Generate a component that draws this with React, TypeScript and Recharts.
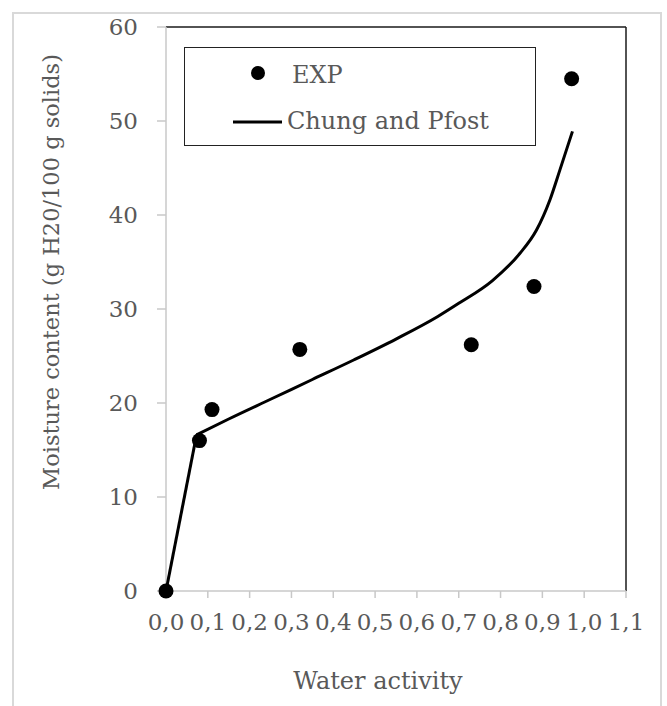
import { ScatterChart, Scatter, XAxis, YAxis, ReferenceLine } from 'recharts';

// measured points (water activity, moisture content)
const expAw = [0, 0.08, 0.11, 0.32, 0.73, 0.88, 0.97];
const expMc = [0, 16.0, 19.3, 25.7, 26.2, 32.4, 54.5];

// Chung and Pfost fit: steep start, then the smooth branch
const fitStartAw = [0, 0.073];
const fitStartMc = [0, 16.6];
const fitAw = [0.073, 0.15, 0.25, 0.35, 0.45, 0.55, 0.65, 0.7, 0.78, 0.846, 0.886, 0.918, 0.942, 0.972];
const fitMc = [16.6, 18.3, 20.4, 22.5, 24.6, 26.8, 29.2, 30.6, 33.0, 35.9, 38.4, 41.6, 44.8, 48.9];

const xTicks = [0, 0.1, 0.2, 0.3, 0.4, 0.5, 0.6, 0.7, 0.8, 0.9, 1.0, 1.1];
const yTicks = [0, 10, 20, 30, 40, 50, 60];

const expData = expAw.map((aw, i) => ({ aw, mc: expMc[i] }));
const fitStart = fitStartAw.map((aw, i) => ({ aw, mc: fitStartMc[i] }));
const fitData = fitAw.map((aw, i) => ({ aw, mc: fitMc[i] }));

const FONT = '"DejaVu Serif", "Liberation Serif", serif';
const TEXT = '#595959';
const AXIS = '#c8c8c8';

const Dot = (p: any) => <circle cx={p.cx} cy={p.cy} r={7.5} fill="#000" />;
const NoDot = () => <g />;

export default function App() {
  return (
    <div style={{ position: 'absolute', left: 0, top: 0, width: 667, height: 706, overflow: 'hidden', background: '#fff' }}>
      <div
        style={{
          position: 'absolute', left: 12, top: 12, width: 650, height: 720,
          border: '2px solid #d9d9d9', boxSizing: 'border-box',
        }}
      />
      <div style={{ position: 'absolute', left: 0, top: 0 }}>
        <ScatterChart width={667} height={706} margin={{ top: 27, right: 41, left: 0, bottom: 0 }}>
          <XAxis
            type="number"
            dataKey="aw"
            domain={[0, 1.1]}
            ticks={xTicks}
            interval={0}
            height={115}
            tickFormatter={(v: number) => v.toFixed(1).replace('.', ',')}
            axisLine={{ stroke: AXIS, strokeWidth: 1.5 }}
            tickLine={{ stroke: AXIS, strokeWidth: 1.5 }}
            tickSize={7}
            tickMargin={16}
            tick={{ fill: TEXT, fontSize: 23, fontFamily: FONT }}
            label={{ value: 'Water activity', position: 'center', dx: -18, dy: 32, fill: TEXT, fontSize: 24, fontFamily: FONT }}
          />
          <YAxis
            type="number"
            dataKey="mc"
            domain={[0, 60]}
            ticks={yTicks}
            interval={0}
            width={166}
            axisLine={{ stroke: AXIS, strokeWidth: 1.5 }}
            tickLine={{ stroke: AXIS, strokeWidth: 1.5 }}
            tickSize={9}
            tickMargin={19}
            tick={{ fill: TEXT, fontSize: 23, fontFamily: FONT }}
            label={{
              value: 'Moisture content (g H20/100 g solids)', position: 'center', angle: -90,
              dx: -32, dy: -37, fill: TEXT, fontSize: 22.5, fontFamily: FONT,
            }}
          />
          <ReferenceLine y={60} stroke="#1a1a1a" strokeWidth={1.5} />
          <ReferenceLine x={1.1} stroke="#1a1a1a" strokeWidth={1.5} />
          <Scatter
            name="Chung and Pfost start"
            data={fitStart}
            line={{ stroke: '#000', strokeWidth: 3 }}
            lineJointType="linear"
            shape={NoDot}
            legendType="none"
            isAnimationActive={false}
          />
          <Scatter
            name="Chung and Pfost"
            data={fitData}
            line={{ stroke: '#000', strokeWidth: 3 }}
            lineJointType="monotoneX"
            shape={NoDot}
            isAnimationActive={false}
          />
          <Scatter name="EXP" data={expData} shape={Dot} isAnimationActive={false} />
        </ScatterChart>
      </div>
      {/* legend box inside the plot */}
      <div
        style={{
          position: 'absolute', left: 184, top: 47, width: 352, height: 99,
          border: '1.5px solid #222', boxSizing: 'border-box', background: '#fff',
        }}
      >
        <svg width={350} height={96} style={{ position: 'absolute', left: 0, top: 0 }}>
          <circle cx={73} cy={25} r={7} fill="#000" />
          <text x={107} y={35} fill={TEXT} fontSize={24} fontFamily={FONT}>EXP</text>
          <line x1={48} x2={97} y1={74} y2={74} stroke="#000" strokeWidth={3} />
          <text x={102} y={81} fill={TEXT} fontSize={24} fontFamily={FONT}>Chung and Pfost</text>
        </svg>
      </div>
    </div>
  );
}
